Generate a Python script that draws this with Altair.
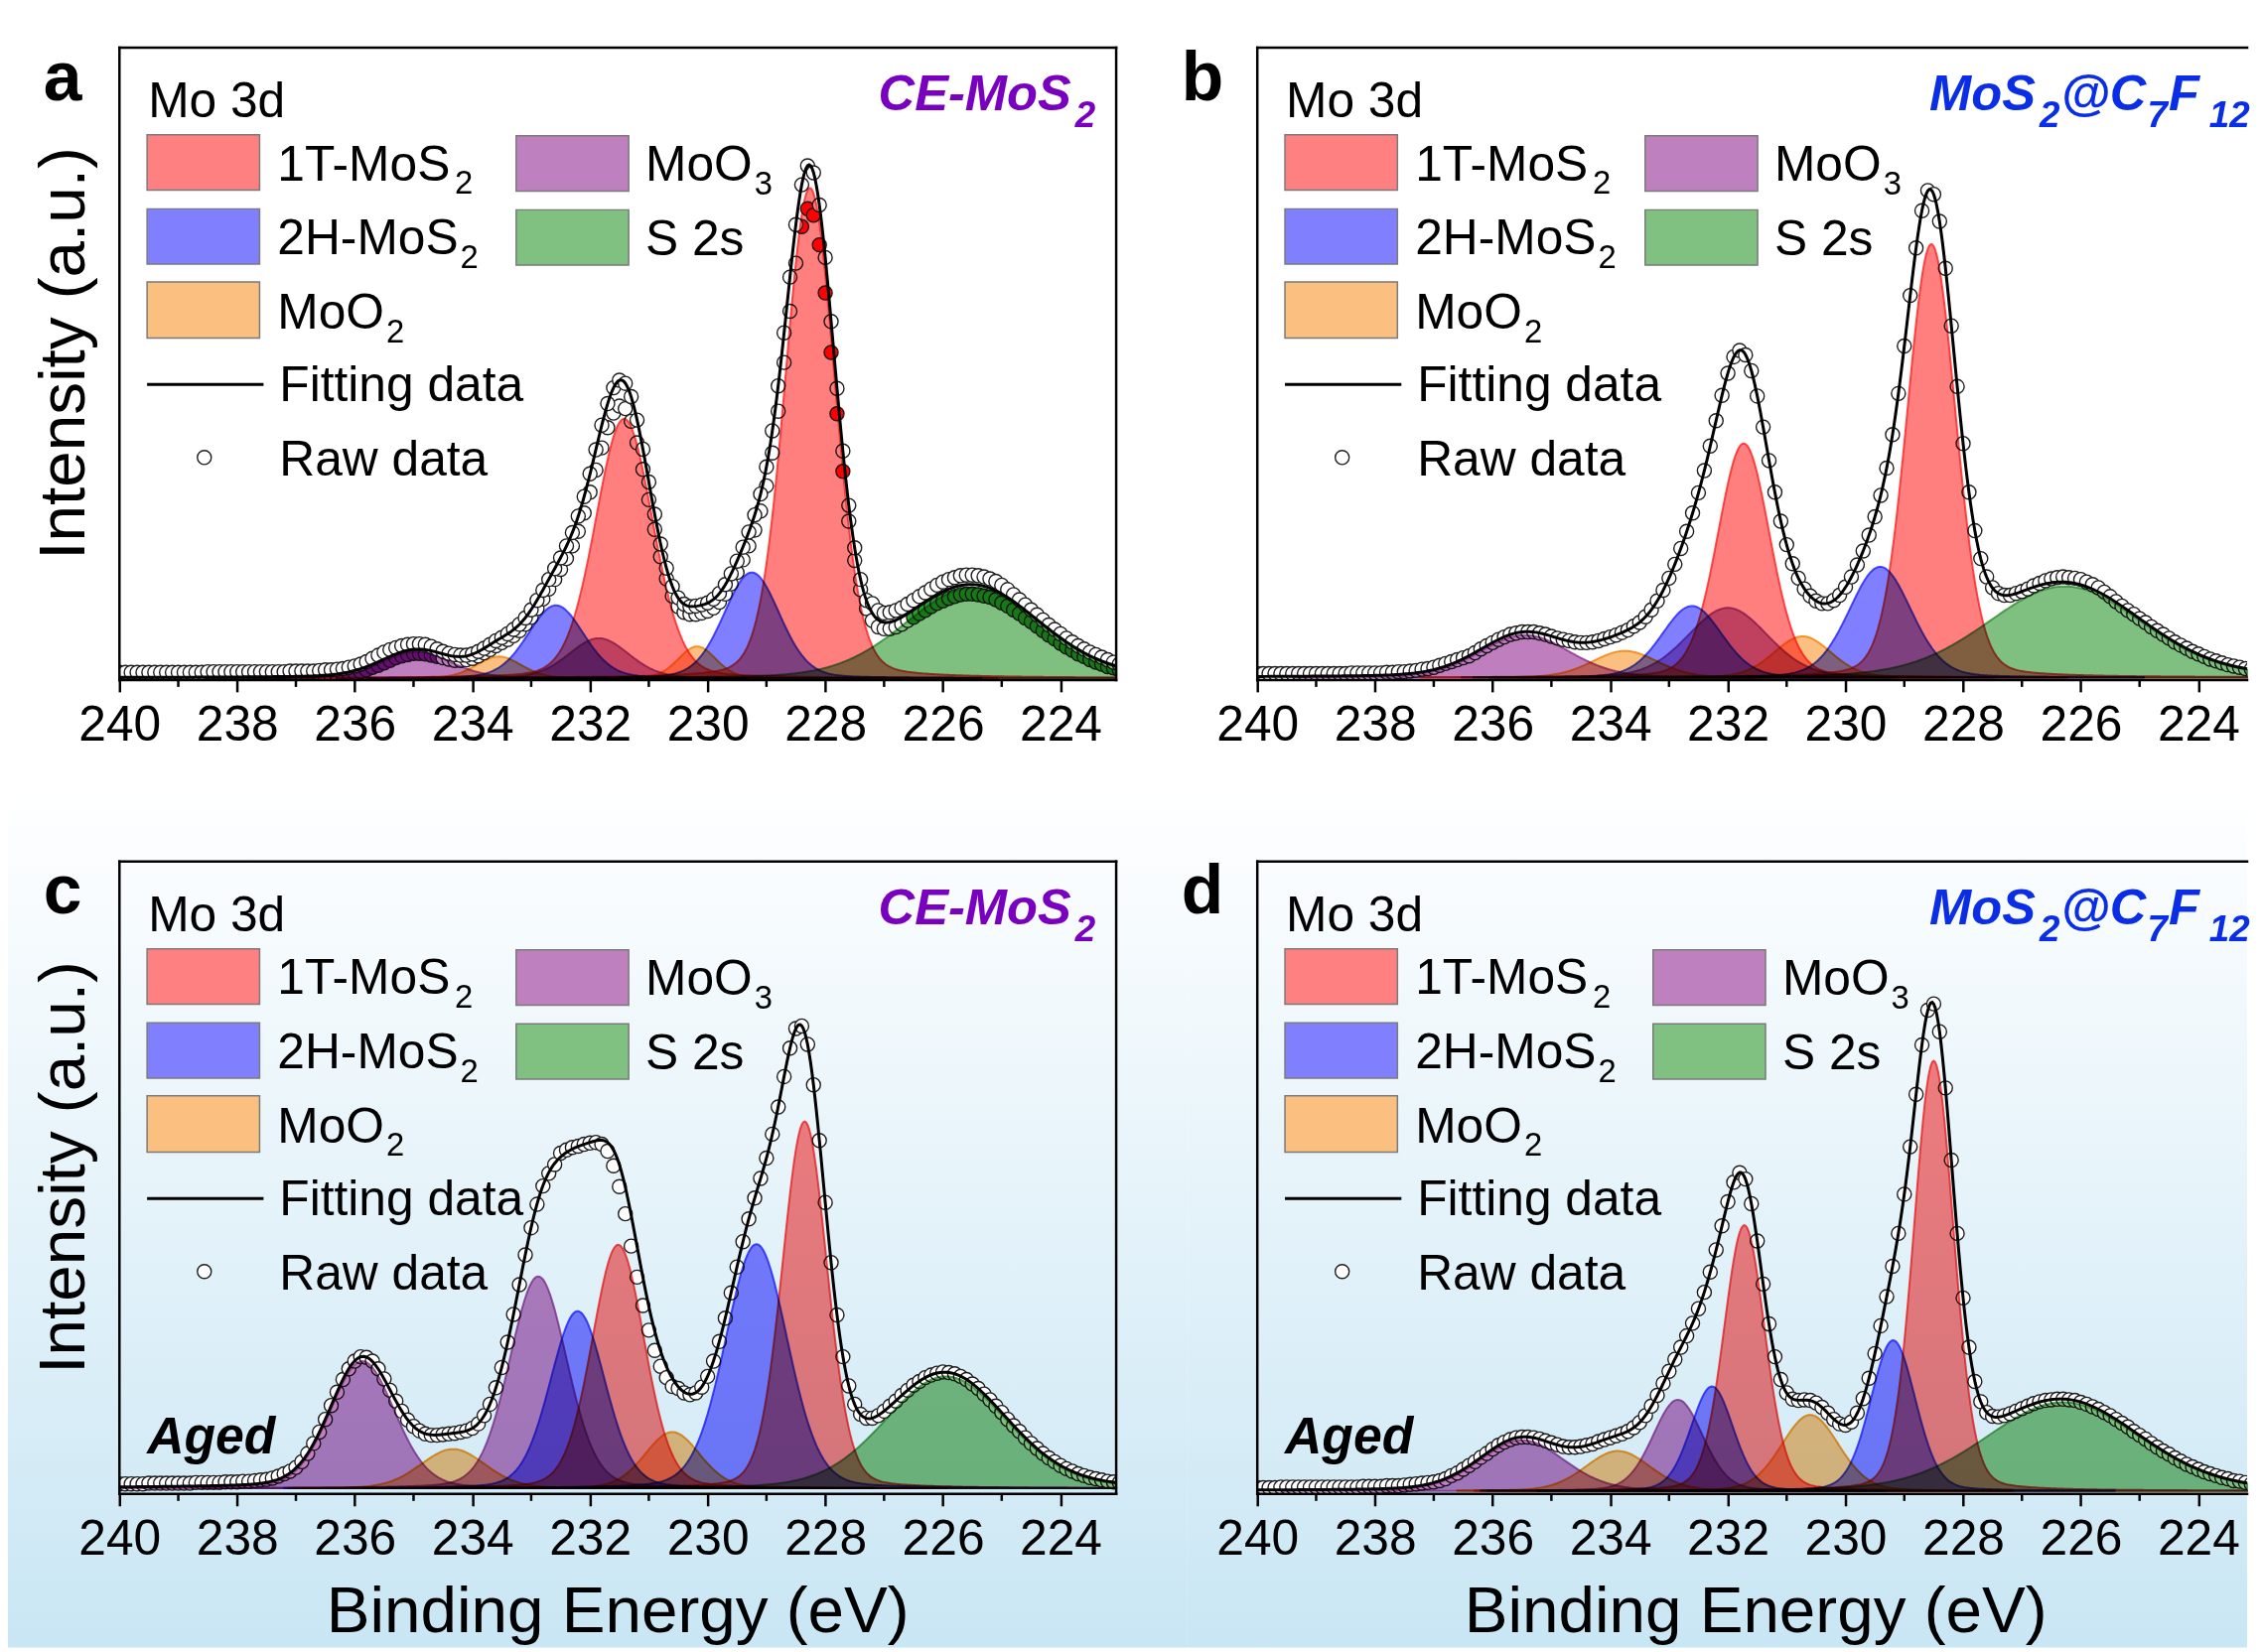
import numpy as np
import pandas as pd
import altair as alt

alt.data_transformers.disable_max_rows()

FONT = "Liberation Sans"

# ---------------- values ----------------
# fitted components: 1T-MoS2 (3d5/2, 3d3/2), 2H-MoS2, MoO2, MoO3 doublets and S 2s
KINDS = ["1T", "1T", "2H", "2H", "MoO2", "MoO2", "MoO3", "MoO3", "S2s"]

A_CENTER = [228.26, 231.42, 229.25, 232.58, 230.18, 233.55, 231.85, 234.95, 225.50]
A_HEIGHT = [77.5, 41.0, 16.7, 11.5, 5.0, 3.4, 6.3, 4.1, 14.3]
A_FWHM = [1.00, 1.15, 1.12, 1.12, 0.75, 0.90, 1.20, 1.40, 2.70]
A_BG = 0.3

B_CENTER = [228.54, 231.73, 229.41, 232.61, 230.73, 233.75, 232.00, 235.45, 226.27]
B_HEIGHT = [68.5, 37.0, 17.5, 11.3, 6.5, 4.2, 11.0, 6.7, 14.4]
B_FWHM = [0.98, 1.05, 1.25, 1.20, 1.15, 1.30, 1.60, 1.80, 3.10]
B_BG = 0.4

C_CENTER = [228.35, 231.52, 229.17, 232.21, 230.60, 234.33, 232.88, 235.87, 225.95]
C_HEIGHT = [58.0, 38.5, 38.6, 28.0, 8.9, 6.2, 33.5, 20.1, 17.7]
C_FWHM = [0.90, 1.05, 1.25, 1.10, 1.10, 1.30, 1.15, 1.30, 2.45]
C_BG = 0.9

D_CENTER = [228.50, 231.72, 229.19, 232.27, 230.60, 233.87, 232.85, 235.50, 226.30]
D_HEIGHT = [68.0, 42.0, 23.8, 16.5, 12.0, 6.3, 14.4, 8.0, 14.0]
D_FWHM = [0.80, 0.82, 0.90, 0.85, 1.15, 1.30, 1.00, 1.70, 3.10]
D_BG = 0.5

# raw data, one value every 0.1 eV from 240.0 eV down to 223.0 eV, in tenths of the plot units
RAW_START, RAW_STEP = 240.0, 0.1
RAW_A1 = [12, 12, 12, 12, 12, 12, 12, 12, 12, 12, 12, 12, 12, 12, 12, 13, 13, 13, 13, 13, 13, 13, 13, 13,
          13, 13, 13, 13, 13, 14, 14, 14, 14, 14, 15, 16,
          16, 17, 18, 20, 22, 25, 29, 34, 39, 44, 48, 51, 54, 56, 57, 57, 56, 53, 49, 45, 42, 40, 39, 39,
          41, 45, 50, 56, 62, 67, 73, 80, 88, 98, 111, 126,
          142, 159, 176, 193, 212, 233, 259, 290, 326, 364, 403, 437, 462, 474, 469, 448, 411, 365, 313, 262,
          215, 177, 148, 130,
          120, 116, 117, 119, 122, 128, 137, 151, 168, 188, 210, 234, 261, 294, 337, 394, 465, 549, 637, 720,
          783, 813, 802, 751,
          668, 567, 461, 362, 276, 209, 159, 126, 121, 110, 106, 107, 110, 114, 120, 126, 132, 138, 144, 150,
          155, 159, 162, 165,
          166, 166, 165, 163, 160, 156,
          150, 143, 135, 127, 119, 111, 103, 95, 87, 80, 73, 66, 60, 54, 49, 44, 40, 36, 32, 28, 25]
RAW_A2 = [1, 1, 1, 1, 1, 1, 1, 1, 1, 1, 1, 1, 1, 1, 1, 1, 1, 1, 1, 1, 1, 1, 2, 2,
          2, 2, 2, 2, 2, 2, 2, 2, 3, 3, 3, 4, 5, 6, 7, 9, 11, 13, 16, 20, 23, 27, 31, 35,
          38, 40, 42, 42, 41, 39, 37, 35, 33, 31, 31, 32, 34, 38, 43, 48, 54, 59, 64, 70, 78, 88, 99, 113,
          128, 144, 159, 175, 192, 212, 235, 264, 297, 332, 367, 399, 422, 433, 429, 409, 375, 333, 285, 238,
          195, 160, 133, 116,
          107, 104, 104, 106, 109, 114, 123, 136, 152, 170, 190, 212, 237, 267, 307, 359, 425, 502, 583, 659,
          717, 745, 735, 688,
          612, 518, 421, 330, 251, 189, 143, 113, 94, 84, 81, 81, 84, 88, 94, 99, 105, 110, 116, 121, 125,
          129, 132, 135,
          136, 136, 135, 133, 131, 127, 122, 117, 111, 105, 98, 92, 85, 78, 71, 65, 58, 52, 47, 41, 37, 32,
          28, 25,
          21, 19, 16]
RAW_B = [10, 10, 10, 10, 10, 10, 10, 10, 10, 10, 10, 10, 10, 10, 10, 10, 11, 11, 11, 11, 11, 11, 12, 12,
         13, 13, 14, 15, 17, 18, 20, 23, 26, 29, 32, 35, 38, 43, 49, 54, 59, 64, 68, 72, 74, 76, 76, 76,
         74, 72, 69, 66, 64, 62, 60, 59, 59, 60, 62, 65, 68, 71, 75, 79, 85, 91, 100, 111, 125, 142, 161, 183,
         208, 235, 264, 296, 331, 370, 410, 450, 485, 511, 521, 514, 489, 449, 400, 347, 297, 251, 214, 184,
         161, 144, 133, 125,
         121, 121, 126, 134, 147, 163, 182, 204, 229, 258, 292, 335, 388, 453, 528, 608, 683, 742, 774, 768,
         725, 651, 560, 464,
         374, 297, 236, 192, 163, 146, 137, 134, 134, 137, 140, 144, 149, 153, 157, 160, 162, 163, 162, 161,
         159, 155, 151, 146,
         139, 132, 124, 117, 110, 104, 97, 91, 84, 78, 72, 66, 60, 55, 50, 45, 41, 37, 33, 30, 27, 24, 22, 20,
         18, 17, 15]
RAW_C = [16, 16, 16, 16, 16, 17, 17, 17, 17, 17, 17, 17, 17, 18, 18, 18, 18, 18, 19, 19, 19, 20, 20, 21,
         22, 23, 25, 28, 32, 36, 42, 51, 64, 80, 98, 118, 140, 161, 181, 198, 210, 217, 216, 210, 198, 182,
         164, 147,
         131, 117, 107, 100, 95, 93, 93, 94, 95, 96, 98, 100, 104, 111, 124, 142, 168, 200, 240, 284, 331, 378,
         421, 458,
         487, 507, 521, 539, 544, 548, 550, 553, 555, 556, 553, 542, 519, 486, 443, 392, 343, 298, 259, 227,
         202, 184, 170, 167,
         160, 157, 160, 169, 186, 210, 241, 278, 318, 359, 399, 435, 468, 499, 531, 569, 612, 660, 705, 736,
         740, 711, 647, 559,
         461, 366, 283, 217, 171, 142, 126, 120, 120, 124, 131, 139, 147, 156, 164, 172, 178, 184, 188, 191,
         193, 192, 190, 186,
         181, 174, 167, 158, 149, 139, 129, 118, 108, 99, 89, 80, 72, 64, 57, 51, 45, 40, 36, 32, 29, 26, 24, 22,
         20, 19, 18]
RAW_D = [10, 10, 10, 10, 11, 11, 11, 11, 11, 11, 11, 11, 11, 11, 11, 11, 11, 11, 12, 12, 12, 12, 13, 13,
         13, 14, 15, 16, 17, 18, 19, 21, 24, 29, 33, 39, 45, 51, 58, 64, 71, 77, 82, 86, 89, 90, 90, 89,
         87, 84, 81, 78, 75, 74, 74, 75, 77, 79, 83, 86, 89, 92, 95, 99, 105, 113, 124, 139, 156, 175, 194, 213,
         232, 250, 270, 293, 319, 351, 386, 424, 462, 493, 508, 498, 459, 400, 332, 269, 217, 181, 160, 150,
         148, 149, 148, 144,
         137, 128, 118, 111, 109, 114, 128, 151, 183, 222, 266, 312, 360, 412, 474, 549, 632, 710, 765, 775,
         731, 642, 528, 412,
         310, 232, 178, 146, 129, 123, 122, 124, 127, 131, 135, 139, 143, 146, 148, 149, 150, 150, 149, 148,
         145, 142, 138, 134,
         129, 124, 118, 112, 106, 99, 93, 87, 80, 74, 68, 63, 57, 52, 47, 43, 39, 35, 32, 29, 26, 24, 21, 20,
         18, 16, 15]

MAJOR = [240, 238, 236, 234, 232, 230, 228, 226, 224]
MINOR = [239, 237, 235, 233, 231, 229, 227, 225]

SAT = {"1T": "#FF0000", "2H": "#0000FF", "MoO2": "#F78200", "MoO3": "#800080", "S2s": "#008000"}
TINT = {"1T": "#FF8080", "2H": "#8080FF", "MoO2": "#FBC07F", "MoO3": "#BF80BF", "S2s": "#80C080"}
EDGE = {"1T": "#FF2020", "2H": "#2020FF", "MoO2": "#F57F00", "MoO3": "#8B2F8B", "S2s": "#2E8B2E"}
DOT = {"1T": "#FF0000", "2H": "#1010FF", "MoO2": "#FF8000", "MoO3": "#8A1A9A", "S2s": "#30A030"}
DRAW_ORDER = [6, 7, 4, 5, 0, 1, 2, 3, 8]
PURPLE = "#7A00C0"
BLUE = "#0A2EE6"

# ---------------- layout ----------------
PX_PER_EV = 59.6
H = 641
W_LEFT = 1010
W_RIGHT = 1003
LO_LEFT = 240 - W_LEFT / PX_PER_EV
LO_RIGHT = 240 - W_RIGHT / PX_PER_EV
MIX = 0.15

AR = {'1': .556, '2': .556, '3': .556, 'T': .611, 'H': .722, '-': .333, 'M': .833,
      'o': .556, 'S': .667, 'O': .778, ' ': .278}
ARB = {'C': .722, 'E': .667, '-': .333, 'M': .833, 'o': .611, 'S': .667, '@': .975, 'F': .611,
       '1': .556, '2': .556, '7': .556}


def tw(s, fs, table=AR):
    return sum(table[ch] for ch in s) * fs


def pv(e, c, h, w):
    d = (np.asarray(e, dtype=float) - c) / w
    return h * ((1 - MIX) * np.exp(-4 * np.log(2) * d * d) + MIX / (1 + 4 * d * d))


def px(field):
    return alt.X(f"{field}:Q", scale=None, axis=None)


def py(field):
    return alt.Y(f"{field}:Q", scale=None, axis=None)


def title_layout(segs, x0):
    """segs: (text, is_sub, gap_before) -> rows with x positions"""
    out, x = [], x0
    for t, sub, gap in segs:
        x += gap
        fs = 37 if sub else 51
        out.append({"x": x, "t": t, "sub": sub})
        x += tw(t, fs, ARB)
    return out


CE_TITLE = title_layout([("CE-MoS", False, 0), ("2", True, 4)], 769)
FC_TITLE = title_layout([("MoS", False, 0), ("2", True, 4), ("@C", False, 1), ("7", True, 1),
                         ("F", False, 1), ("12", True, 10)], 681)


def panel(letter, cs, hs, ws, bg, raws, width, lo, is_left, is_bottom, title_rows, title_color, col2):
    AX = alt.Axis(values=MAJOR, format="d", labelFont=FONT, labelFontSize=50, labelColor="black",
                  labelPadding=9, tickSize=12, tickWidth=2.5, tickColor="black", domain=False,
                  grid=False, title=None, zindex=1, labelOverlap=False, labelFlush=False)
    X = alt.X("E:Q", scale=alt.Scale(domain=[lo, 240], reverse=True, nice=False, zero=False), axis=AX)
    Y = alt.Y("I:Q", scale=alt.Scale(domain=[0, 100], nice=False, zero=False), axis=None)
    one = pd.DataFrame({"d": [0]})
    layers = []

    xl = -113 if is_left else -71.5
    xr = width + 71.5 if is_left else width
    if is_bottom:
        grad = alt.LinearGradient(gradient="linear", x1=0, x2=0, y1=0, y2=1,
                                  stops=[alt.GradientStop(color="#FFFFFF", offset=0),
                                         alt.GradientStop(color="#C9E6F4", offset=1)])
        layers.append(alt.Chart(one).mark_rect(fill=grad, strokeWidth=0).encode(
            x=alt.value(xl), x2=alt.value(xr), y=alt.value(-77.5), y2=alt.value(796.5)))
    else:
        layers.append(alt.Chart(one).mark_rect(fill="white", strokeWidth=0).encode(
            x=alt.value(xl), x2=alt.value(xr), y=alt.value(-34.5), y2=alt.value(-1)))

    # raw circles (coloured where they sit inside a component area)
    energies = [round(RAW_START - RAW_STEP * i, 2) for i in range(len(raws[0]))]
    recs = []
    for tenths in raws:
        for e, t in zip(energies, tenths):
            v = t / 10.0
            best, bv = None, -1.0
            for k, (c, h, w) in enumerate(zip(cs, hs, ws)):
                cv = float(pv(e, c, h, w))
                if cv > 0.5 and v <= bg + cv and cv > bv:
                    best, bv = k, cv
            recs.append({"E": e, "I": v, "f": DOT[KINDS[best]] if best is not None else "#FFFFFF"})
    raw_df = pd.DataFrame(recs)
    layers.append(alt.Chart(raw_df).mark_point(shape="circle", filled=True, size=200, stroke="#1e1e1e",
                                               strokeWidth=1.4, opacity=1, clip=True).encode(
        x=X, y=Y, fill=alt.Fill("f:N", scale=None)))

    # component areas, one layer each
    grid = np.round(np.arange(240.0, lo - 1e-9, -0.025), 4)
    grid = np.append(grid, lo)
    for k in DRAW_ORDER:
        c, h, w = cs[k], hs[k], ws[k]
        v = pv(grid, c, h, w)
        m = v > 0.05
        cdf = pd.DataFrame({"E": grid[m], "I": bg + v[m], "B": bg})
        kind = KINDS[k]
        layers.append(alt.Chart(cdf).mark_area(fill=SAT[kind], fillOpacity=0.5, stroke=EDGE[kind],
                                               strokeWidth=2, strokeOpacity=0.8, blend="multiply").encode(
            x=X, y=Y, y2="B:Q"))

    fit_df = pd.DataFrame({"E": grid, "I": bg + sum(pv(grid, c, h, w) for c, h, w in zip(cs, hs, ws))})
    layers.append(alt.Chart(fit_df).mark_line(color="black", strokeWidth=3).encode(x=X, y=Y))

    # frame and minor ticks
    fr = [(0, width, 0, 0), (0, width, H, H), (0, 0, 0, H)]
    if is_left:
        fr.append((width, width, 0, H))
    fr_df = pd.DataFrame(fr, columns=["x", "x2", "y", "y2"])
    layers.append(alt.Chart(fr_df).mark_rule(color="black", strokeWidth=2.5, strokeCap="square").encode(
        x=px("x"), x2="x2:Q", y=py("y"), y2="y2:Q"))
    layers.append(alt.Chart(pd.DataFrame({"E": MINOR})).mark_rule(color="black", strokeWidth=2.5).encode(
        x=X, y=alt.value(H), y2=alt.value(H + 7)))

    # legend
    sw = pd.DataFrame([
        {"x": 28, "x2": 142, "y": 88.5, "y2": 144.5, "c": TINT["1T"]},
        {"x": 28, "x2": 142, "y": 163.5, "y2": 219.5, "c": TINT["2H"]},
        {"x": 28, "x2": 142, "y": 237.5, "y2": 294.5, "c": TINT["MoO2"]},
        {"x": col2, "x2": col2 + 114, "y": 89.5, "y2": 145.5, "c": TINT["MoO3"]},
        {"x": col2, "x2": col2 + 114, "y": 164.5, "y2": 220.5, "c": TINT["S2s"]},
    ])
    layers.append(alt.Chart(sw).mark_rect(stroke="#7a7a7a", strokeWidth=1.5).encode(
        x=px("x"), x2="x2:Q", y=py("y"), y2="y2:Q", fill=alt.Fill("c:N", scale=None)))
    layers.append(alt.Chart(one).mark_rule(color="black", strokeWidth=3).encode(
        x=alt.value(28), x2=alt.value(146), y=alt.value(341.5), y2=alt.value(341.5)))
    layers.append(alt.Chart(one).mark_point(shape="circle", filled=True, size=200, fill="white",
                                            stroke="#1e1e1e", strokeWidth=1.4, opacity=1).encode(
        x=alt.value(86), y=alt.value(415.5)))

    c2 = col2 + 131
    main = pd.DataFrame([
        {"x": 29, "y": 71, "t": "Mo 3d"},
        {"x": 160, "y": 134.5, "t": "1T-MoS"},
        {"x": 160, "y": 209.5, "t": "2H-MoS"},
        {"x": 160, "y": 284.5, "t": "MoO"},
        {"x": c2, "y": 135, "t": "MoO"},
        {"x": c2, "y": 210, "t": "S 2s"},
        {"x": 162, "y": 358.5, "t": "Fitting data"},
        {"x": 162, "y": 433.5, "t": "Raw data"},
    ])
    subs = pd.DataFrame([
        {"x": 160 + tw("1T-MoS", 50) + 2, "y": 148.5, "t": "2"},
        {"x": 160 + tw("2H-MoS", 50) + 2, "y": 223.5, "t": "2"},
        {"x": 160 + tw("MoO", 50) + 2, "y": 298.5, "t": "2"},
        {"x": c2 + tw("MoO", 50) + 2, "y": 149, "t": "3"},
    ])
    layers.append(alt.Chart(main).mark_text(font=FONT, fontSize=50, align="left", baseline="alphabetic",
                                            color="black").encode(x=px("x"), y=py("y"), text="t:N"))
    layers.append(alt.Chart(subs).mark_text(font=FONT, fontSize=33, align="left", baseline="alphabetic",
                                            color="black").encode(x=px("x"), y=py("y"), text="t:N"))

    layers.append(alt.Chart(pd.DataFrame([{"x": -77, "y": 53, "t": letter}])).mark_text(
        font=FONT, fontSize=70, fontWeight="bold", align="left", baseline="alphabetic", color="black").encode(
        x=px("x"), y=py("y"), text="t:N"))

    tmain = pd.DataFrame([{"x": r["x"], "y": 64, "t": r["t"]} for r in title_rows if not r["sub"]])
    tsub = pd.DataFrame([{"x": r["x"], "y": 80.5, "t": r["t"]} for r in title_rows if r["sub"]])
    layers.append(alt.Chart(tmain).mark_text(font=FONT, fontSize=51, fontWeight="bold", fontStyle="italic",
                                             align="left", baseline="alphabetic", color=title_color).encode(
        x=px("x"), y=py("y"), text="t:N"))
    layers.append(alt.Chart(tsub).mark_text(font=FONT, fontSize=37, fontWeight="bold", fontStyle="italic",
                                            align="left", baseline="alphabetic", color=title_color).encode(
        x=px("x"), y=py("y"), text="t:N"))

    if is_left:
        layers.append(alt.Chart(pd.DataFrame([{"x": -36, "y": 310, "t": "Intensity (a.u.)"}])).mark_text(
            font=FONT, fontSize=66, angle=270, align="center", baseline="alphabetic", color="black").encode(
            x=px("x"), y=py("y"), text="t:N"))
    if is_bottom:
        layers.append(alt.Chart(pd.DataFrame([{"x": 28, "y": 600, "t": "Aged"}])).mark_text(
            font=FONT, fontSize=52, fontWeight="bold", fontStyle="italic", align="left",
            baseline="alphabetic", color="black").encode(x=px("x"), y=py("y"), text="t:N"))
        layers.append(alt.Chart(pd.DataFrame([{"x": 505, "y": 781, "t": "Binding Energy (eV)"}])).mark_text(
            font=FONT, fontSize=66, align="center", baseline="alphabetic", color="black").encode(
            x=px("x"), y=py("y"), text="t:N"))

    return alt.layer(*layers).properties(width=width, height=H)


pa = panel("a", A_CENTER, A_HEIGHT, A_FWHM, A_BG, [RAW_A2, RAW_A1], W_LEFT, LO_LEFT, True, False,
           CE_TITLE, PURPLE, 402)
pb = panel("b", B_CENTER, B_HEIGHT, B_FWHM, B_BG, [RAW_B], W_RIGHT, LO_RIGHT, False, False,
           FC_TITLE, BLUE, 393)
pc = panel("c", C_CENTER, C_HEIGHT, C_FWHM, C_BG, [RAW_C], W_LEFT, LO_LEFT, True, True,
           CE_TITLE, PURPLE, 402)
pd_ = panel("d", D_CENTER, D_HEIGHT, D_FWHM, D_BG, [RAW_D], W_RIGHT, LO_RIGHT, False, True,
            FC_TITLE, BLUE, 401)

chart = alt.concat(pa, pb, pc, pd_, columns=2, spacing={"row": 184, "column": 143}, bounds="flush").properties(
    padding={"left": 0, "top": 0, "right": 0, "bottom": 0}, background="white"
).configure_view(strokeWidth=0)

chart.save("out.html", embed_options={"renderer": "svg", "actions": False})
